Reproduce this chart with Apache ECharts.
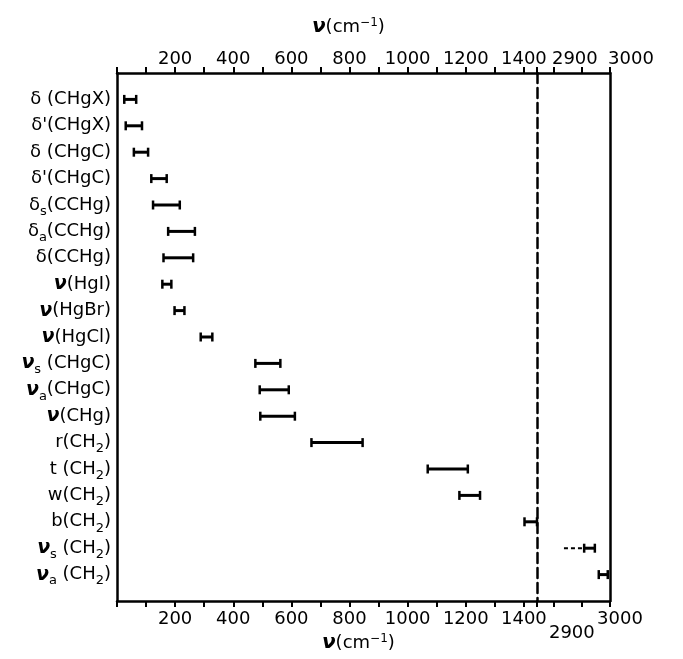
<!DOCTYPE html>
<html>
<head>
<meta charset="utf-8">
<script src="https://cdn.jsdelivr.net/npm/echarts@6/dist/echarts.min.js"></script>
<style>
  html, body { margin: 0; background: #fff; }
  #chart { width: 683px; height: 659px; }
</style>
</head>
<body>
<div id="chart"></div>
<script>
// vibration modes, top to bottom ("_x" = subscript)
var modes = ['δ (CHgX)', "δ'(CHgX)", 'δ (CHgC)', "δ'(CHgC)", 'δ_s(CCHg)', 'δ_a(CCHg)', 'δ(CCHg)',
  'ν(HgI)', 'ν(HgBr)', 'ν(HgCl)', 'ν_s (CHgC)', 'ν_a(CHgC)', 'ν(CHg)',
  'r(CH_2)', 't (CH_2)', 'w(CH_2)', 'b(CH_2)', 'ν_s (CH_2)', 'ν_a (CH_2)'];
// frequency range of each mode, cm-1
var rangeLow  = [25, 30, 58, 118, 124, 176, 160, 156, 198, 288, 476, 491, 493, 669, 1069, 1178, 1402, 2954, 2980];
var rangeHigh = [66, 86, 107, 171, 216, 268, 262, 187, 232, 328, 562, 591, 612, 845, 1207, 1249, 1445, 2973, 2996];
// dotted extension of vs(CH2)
var extRow  = [17];
var extLow  = [2918];
var extHigh = [2954];

// broken axis: 0..1445 | 2870..3000
var leftMax = 1445;
var rightMin = 2870;
var rightMax = 3000;

var font = 'DejaVu Sans';

function richLabel(s) {
  return s.replace(/ν/g, '{nu|ν}').replace(/_(\w)/g, '{sub|$1}');
}

var leftData = [], rightData = [];
for (var i = 0; i < modes.length; i++) {
  var item = [i, rangeLow[i], rangeHigh[i]];
  if (rangeLow[i] > leftMax) rightData.push(item); else leftData.push(item);
}
var extData = extRow.map(function (r, k) { return [r, extLow[k], extHigh[k]]; });

function renderRange(params, api) {
  var y = api.value(0);
  var a = api.coord([api.value(1), y]);
  var b = api.coord([api.value(2), y]);
  var h = 4.5;
  var st = { stroke: '#000', lineWidth: 3 };
  return {
    type: 'group',
    children: [
      { type: 'line', shape: { x1: a[0], y1: a[1], x2: b[0], y2: b[1] }, style: st },
      { type: 'line', shape: { x1: a[0], y1: a[1] - h, x2: a[0], y2: a[1] + h }, style: { stroke: '#000', lineWidth: 2.5 } },
      { type: 'line', shape: { x1: b[0], y1: b[1] - h, x2: b[0], y2: b[1] + h }, style: { stroke: '#000', lineWidth: 2.5 } }
    ]
  };
}

function renderDash(params, api) {
  var y = api.value(0);
  var a = api.coord([api.value(1), y]);
  var b = api.coord([api.value(2), y]);
  return {
    type: 'line',
    shape: { x1: a[0], y1: a[1], x2: b[0], y2: b[1] },
    style: { stroke: '#000', lineWidth: 2, lineDash: [4, 3] }
  };
}

var axisLine = { show: true, onZero: false, lineStyle: { color: '#000', width: 2.5 } };
var tick = { length: 6, lineStyle: { color: '#000', width: 2 } };
var tickLabel = { color: '#000', fontFamily: font, fontSize: 18 };

function leftFormatter(v) {
  return (v > 0 && v % 200 === 0) ? String(v) : '';
}

var chart = echarts.init(document.getElementById('chart'));
chart.setOption({
  backgroundColor: '#fff',
  animation: false,
  grid: [
    { left: 117, top: 73, width: 420, bottom: 58 },
    { left: 537, top: 73, width: 73, bottom: 58 }
  ],
  xAxis: [
    { gridIndex: 0, type: 'value', position: 'bottom', min: 0, max: leftMax, interval: 100,
      axisLine: axisLine, axisTick: tick, splitLine: { show: false },
      axisLabel: Object.assign({ margin: 9, formatter: leftFormatter }, tickLabel) },
    { gridIndex: 0, type: 'value', position: 'top', min: 0, max: leftMax, interval: 100,
      axisLine: axisLine, axisTick: tick, splitLine: { show: false },
      axisLabel: Object.assign({ margin: 5, formatter: leftFormatter }, tickLabel) },
    { gridIndex: 1, type: 'value', position: 'bottom', min: rightMin, max: rightMax,
      minInterval: 50, maxInterval: 50,
      axisLine: axisLine, axisTick: tick, splitLine: { show: false },
      axisLabel: Object.assign({
        margin: 9,
        formatter: function (v) {
          if (v === 2900) return '{low|2900}';
          if (v === 3000) return '{end|3000}';
          return '';
        },
        rich: {
          low: { fontFamily: font, fontSize: 18, color: '#000', padding: [14, 0, 0, 36] },
          end: { fontFamily: font, fontSize: 18, color: '#000', padding: [0, 0, 0, 20] }
        }
      }, tickLabel) },
    { gridIndex: 1, type: 'value', position: 'top', min: rightMin, max: rightMax,
      minInterval: 50, maxInterval: 50,
      axisLine: axisLine, axisTick: tick, splitLine: { show: false },
      axisLabel: Object.assign({
        margin: 5,
        formatter: function (v) {
          if (v === 2900 || v === 3000) return '{sh|' + v + '}';
          return '';
        },
        rich: {
          sh: { fontFamily: font, fontSize: 18, color: '#000', padding: [0, 0, 0, 42] }
        }
      }, tickLabel) }
  ],
  yAxis: [
    { gridIndex: 0, type: 'value', position: 'left', inverse: true, min: -1, max: modes.length, interval: 1,
      axisLine: axisLine, axisTick: { show: false }, splitLine: { show: false },
      axisLabel: {
        margin: 6, color: '#000', fontFamily: font, fontSize: 18, lineHeight: 26,
        formatter: function (v) {
          return (v >= 0 && v < modes.length) ? richLabel(modes[v]) : '';
        },
        rich: {
          nu: { fontFamily: font, fontSize: 19, fontStyle: 'italic', fontWeight: 'bold', color: '#000' },
          sub: { fontFamily: font, fontSize: 13, color: '#000', verticalAlign: 'bottom' }
        }
      } },
    { gridIndex: 1, type: 'value', position: 'left', inverse: true, min: -1, max: modes.length, interval: 1,
      axisLine: { show: true, onZero: false, lineStyle: { color: '#000', width: 2.5, type: [10, 5] } },
      axisTick: { show: false }, axisLabel: { show: false }, splitLine: { show: false } },
    { gridIndex: 1, type: 'value', position: 'right', inverse: true, min: -1, max: modes.length, interval: 1,
      axisLine: axisLine, axisTick: { show: false }, axisLabel: { show: false }, splitLine: { show: false } }
  ],
  graphic: [
    { type: 'text', left: 312, top: 17,
      style: { text: '{nu|ν}(cm{sup|−1})', fill: '#000', font: '18px "DejaVu Sans"',
        rich: { nu: { fontSize: 20, fontStyle: 'italic', fontWeight: 'bold', fontFamily: font },
                sup: { fontSize: 12, verticalAlign: 'top', fontFamily: font } } } },
    { type: 'text', left: 322, top: 633,
      style: { text: '{nu|ν}(cm{sup|−1})', fill: '#000', font: '18px "DejaVu Sans"',
        rich: { nu: { fontSize: 20, fontStyle: 'italic', fontWeight: 'bold', fontFamily: font },
                sup: { fontSize: 12, verticalAlign: 'top', fontFamily: font } } } }
  ],
  series: [
    { type: 'custom', xAxisIndex: 0, yAxisIndex: 0, renderItem: renderRange,
      encode: { x: [1, 2], y: 0 }, data: leftData },
    { type: 'custom', xAxisIndex: 2, yAxisIndex: 1, renderItem: renderRange,
      encode: { x: [1, 2], y: 0 }, data: rightData },
    { type: 'custom', xAxisIndex: 2, yAxisIndex: 1, renderItem: renderDash,
      encode: { x: [1, 2], y: 0 }, data: extData }
  ]
});
</script>
</body>
</html>
